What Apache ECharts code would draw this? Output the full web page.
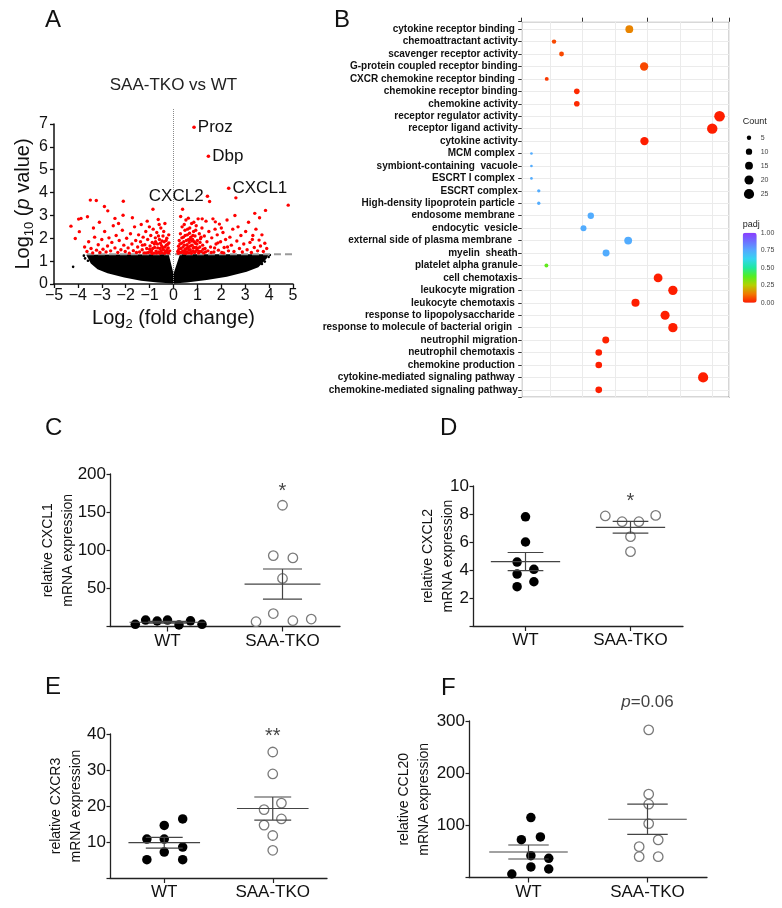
<!DOCTYPE html>
<html>
<head>
<meta charset="utf-8">
<script src="https://cdn.jsdelivr.net/npm/echarts@6/dist/echarts.min.js"></script>
<style>html,body{margin:0;padding:0;background:#fff}#main{width:782px;height:908px}</style>
</head>
<body>
<div id="main"></div>
<script>
// ---- A: volcano plot (log2 fold change, -log10 p) ----
var volcanoRed = [
  [-4.29,2.53],[-4.11,1.99],[-3.97,2.84],[-3.94,2.29],[-3.87,2.87],[-3.6,2.94],[-3.48,3.67],[-3.23,3.65],[-2.89,3.39],[-2.75,3.2],
  [-3.72,1.62],[-3.62,1.42],[-3.55,1.85],[-3.45,1.55],[-3.38,1.36],[-3.3,2.05],[-3.22,1.48],[-3.15,1.72],[-3.08,1.38],[-3.0,1.95],
  [-2.95,1.52],[-2.88,2.3],[-2.82,1.4],[-2.76,1.66],[-2.7,2.02],[-2.63,1.45],[-2.58,1.82],[-2.52,2.55],[-3.35,2.45],[-3.1,2.7],
  [-2.45,2.87],[-2.11,3.01],[-2.1,3.62],[-2.45,1.58],[-2.4,2.12],[-2.33,1.38],[-2.27,1.9],[-2.2,1.5],[-2.14,2.35],[-2.08,1.7],
  [-2.02,1.42],[-1.96,2.0],[-1.9,1.58],[-1.85,1.35],[-1.8,2.2],[-1.74,1.75],[-1.68,1.46],[-1.63,2.5],[-1.58,1.9],[-1.55,1.38],
  [-2.3,2.65],[-1.72,2.9],
  [-1.5,1.62],[-1.46,2.15],[-1.42,1.4],[-1.38,1.85],[-1.35,2.6],[-1.31,1.5],[-1.27,2.05],[-1.23,1.36],[-1.2,1.72],[-1.16,2.3],
  [-1.12,1.55],[-1.08,1.95],[-1.05,1.38],[-1.01,2.5],[-0.98,1.66],[-0.95,2.12],[-0.92,1.45],[-0.89,1.82],[-0.86,3.27],[-0.85,2.4],
  [-0.82,1.35],[-0.79,1.6],[-0.76,2.02],[-0.73,1.44],[-0.7,2.25],[-0.67,1.75],[-0.64,2.82],[-0.62,1.4],[-0.59,1.95],[-0.56,1.55],
  [-0.53,2.45],[-0.5,1.68],[-0.47,1.36],[-0.44,2.1],[-0.42,1.5],[-0.39,1.85],[-0.36,2.65],[-0.33,1.42],[-0.3,1.7],[-0.28,2.0],
  [-0.25,1.38],[-0.22,1.58],[-0.19,1.8],[-0.16,1.45],[-0.6,2.6],[-1.1,2.75],[-0.95,1.4],[-0.45,1.6],[-0.75,1.85],[-1.3,1.7],
  [-0.9,1.33],[-0.87,1.55],[-0.8,1.75],[-0.71,1.35],[-0.66,1.58],[-0.57,1.34],[-0.52,1.46],[-0.48,1.88],[-0.37,1.34],[-0.35,1.62],
  [-0.31,1.9],[-0.27,1.5],[-0.24,1.74],[-0.21,1.36],[-0.2,2.15],[-1.0,1.52],[-1.14,1.36],[-0.63,2.1],[-0.41,2.3],[-0.55,1.78],
  [0.18,1.42],[0.21,1.65],[0.24,1.9],[0.26,1.38],[0.29,2.2],[0.31,1.55],[0.34,1.78],[0.36,2.5],[0.38,3.27],[0.39,1.45],
  [0.41,2.05],[0.44,1.35],[0.46,1.7],[0.48,2.35],[0.5,1.52],[0.52,2.8],[0.54,1.9],[0.56,1.4],[0.58,2.15],[0.6,1.62],
  [0.62,2.88],[0.64,1.36],[0.66,1.82],[0.68,2.45],[0.7,1.5],[0.72,2.05],[0.74,1.4],[0.76,2.65],[0.78,1.7],[0.8,1.95],
  [0.82,1.45],[0.84,2.3],[0.86,1.6],[0.88,1.38],[0.9,2.1],[0.92,1.78],[0.95,2.55],[0.97,1.48],[1.0,1.9],[1.03,2.85],
  [1.05,1.36],[1.08,2.2],[1.1,1.62],[1.13,1.98],[1.16,1.42],[1.19,2.45],[1.22,1.7],[1.26,1.36],[1.29,2.1],[1.32,1.55],
  [1.36,2.75],[1.4,1.85],[1.44,1.45],[1.48,2.3],[0.45,2.6],[0.3,2.95],[0.7,1.95],[0.55,1.55],[0.85,2.7],[1.2,2.85],
  [0.62,1.6],[0.95,1.6],
  [0.2,1.34],[0.23,1.52],[0.27,1.75],[0.33,1.38],[0.35,2.02],[0.4,1.62],[0.43,1.85],[0.47,1.45],[0.49,2.12],[0.53,1.34],
  [0.57,1.72],[0.59,2.4],[0.63,1.95],[0.65,1.48],[0.67,2.22],[0.71,1.66],[0.75,1.34],[0.77,1.88],[0.81,2.12],[0.83,1.58],
  [0.87,1.85],[0.91,1.4],[0.93,2.35],[0.98,1.75],[1.02,1.56],[1.07,1.42],[1.11,1.82],[1.15,2.05],[1.24,1.52],[1.34,1.4],
  [1.51,3.61],[1.55,1.62],[1.6,2.02],[1.65,2.85],[1.69,1.4],[1.74,2.4],[1.78,1.75],[1.83,2.15],[1.88,1.48],[1.92,2.62],
  [1.97,1.85],[2.02,1.38],[2.07,2.25],[2.12,1.6],[2.18,1.95],[2.24,2.8],[2.3,1.45],[2.36,2.05],[2.42,1.7],[2.48,2.4],
  [2.53,1.42],[2.57,3.0],[2.61,3.77],[2.65,1.88],[2.7,2.5],[2.76,1.55],[2.82,2.12],[2.88,1.4],[2.94,1.75],[1.75,2.72],
  [2.0,2.45],[1.58,1.38],[1.72,1.58],[1.86,1.8],[2.1,1.36],[2.26,1.62],
  [3.02,2.3],[3.08,1.5],[3.14,2.7],[3.2,1.82],[3.26,1.38],[3.32,2.12],[3.38,1.6],[3.4,3.09],[3.45,2.4],[3.52,1.45],
  [3.58,1.92],[3.64,1.66],[3.7,2.15],[3.76,1.42],[3.82,1.78],[3.85,3.22],[3.9,1.55],[4.8,3.45],[3.3,1.95],[3.6,2.9]
];
// outline of the dense black cloud of non-significant genes
var cloudEdge = [
  [-3.65,1.28],[-0.2,1.3],[0,0.45],[0.27,1.3],[3.97,1.3],[3.9,1.12],[3.55,0.73],[3.06,0.54],[2.23,0.32],
  [1.39,0.17],[0.55,0.07],[0,0.02],[-0.66,0.07],[-1.36,0.14],[-2.06,0.28],[-2.76,0.47],[-3.18,0.65],[-3.46,0.9]
];
var cloudStray = [[-4.2,0.75],[-3.75,1.24],[-3.7,1.12],[-3.58,1.02],[4.03,1.27],[3.98,1.18],[3.82,0.98],[3.7,0.88]];
var geneNames = ['Proz', 'Dbp', 'CXCL1', 'CXCL2'];
var geneFC = [0.86, 1.46, 2.31, 1.42];
var geneLogP = [6.86, 5.59, 4.19, 3.84];
var pCutoff = 1.3;

// ---- B: GO enrichment dot plot ----
var goTerms = [
  'cytokine receptor binding ', 'chemoattractant activity', 'scavenger receptor activity',
  'G-protein coupled receptor binding', 'CXCR chemokine receptor binding ', 'chemokine receptor binding',
  'chemokine activity', 'receptor regulator activity', 'receptor ligand activity', 'cytokine activity',
  'MCM complex ', 'symbiont-containing  vacuole', 'ESCRT I complex ', 'ESCRT complex',
  'High-density lipoprotein particle ', 'endosome membrane ', 'endocytic  vesicle',
  'external side of plasma membrane  ', 'myelin  sheath', 'platelet alpha granule', 'cell chemotaxis',
  'leukocyte migration ', 'leukocyte chemotaxis ', 'response to lipopolysaccharide ',
  'response to molecule of bacterial origin  ', 'neutrophil migration', 'neutrophil chemotaxis ',
  'chemokine production ', 'cytokine-mediated signaling pathway ', 'chemokine-mediated signaling pathway'
];
var goRatio = [0.0688, 0.0225, 0.0271, 0.0779, 0.0180, 0.0365, 0.0365, 0.1243, 0.1198, 0.0781,
  0.0086, 0.0086, 0.0086, 0.0131, 0.0131, 0.0451, 0.0406, 0.0681, 0.0545, 0.0178,
  0.0865, 0.0956, 0.0726, 0.0908, 0.0956, 0.0543, 0.0500, 0.0500, 0.1142, 0.0500];
var goCount = [15, 5, 6, 17, 4, 8, 8, 27, 26, 17, 2, 2, 2, 3, 3, 10, 9, 15, 12, 4,
  19, 21, 16, 20, 21, 12, 11, 11, 25, 11];
var goPadj = [0.14, 0.06, 0.06, 0.06, 0.04, 0.02, 0.02, 0.005, 0.005, 0.005,
  0.74, 0.74, 0.74, 0.74, 0.74, 0.74, 0.74, 0.74, 0.74, 0.36,
  0.005, 0.005, 0.005, 0.005, 0.005, 0.01, 0.005, 0.005, 0.005, 0.005];
var countKeys = [5, 10, 15, 20, 25];
var padjKeys = ['1.00', '0.75', '0.50', '0.25', '0.00'];
var padjColors = ['#ff1a00', '#f07a00', '#b5d000', '#55ee20', '#20e8a0', '#35d5f0', '#55a8ff', '#6e70ff', '#8a3cff'];

// ---- C-F: qPCR dot plots, [x position with jitter, value] ----
var groups = ['WT', 'SAA-TKO'];
var cxcl1Wt = [[0.72,2.9],[0.81,8.5],[0.91,7.2],[1.0,8.5],[1.1,2.0],[1.2,7.5],[1.3,2.9]];
var cxcl1Ko = [[2.0,159],[1.92,93],[2.09,90],[2.0,63],[1.92,17],[1.77,6.3],[2.09,7.6],[2.25,9.8]];
var cxcl1Mean = [5.6, 55.7], cxcl1Sem = [1.1, 19.7];
var cxcl2Wt = [[1.0,7.8],[1.0,6.0],[0.92,4.57],[0.92,3.71],[1.08,4.05],[1.08,3.16],[0.92,2.81]];
var cxcl2Ko = [[1.76,7.86],[1.92,7.45],[2.08,7.45],[2.24,7.9],[2.0,6.38],[2.0,5.31]];
var cxcl2Mean = [4.6, 7.05], cxcl2Sem = [0.65, 0.42];
var cxcr3Wt = [[0.84,10.8],[1.0,10.8],[1.17,8.6],[1.0,7.2],[0.84,5.1],[1.17,5.1],[1.0,14.6],[1.17,16.4]];
var cxcr3Ko = [[2.0,35],[2.0,28.9],[2.08,20.8],[1.92,19.0],[2.08,16.4],[1.92,14.7],[2.0,11.8],[2.0,7.7]];
var cxcr3Mean = [9.8, 19.3], cxcr3Sem = [1.5, 3.2];
var ccl20Wt = [[1.02,114.8],[0.94,72.6],[1.1,77.7],[1.02,41.8],[1.17,36.8],[1.02,20.2],[1.17,16.3],[0.86,6.7]];
var ccl20Ko = [[2.01,283],[2.01,159.7],[2.01,140.5],[2.01,103.3],[2.09,72],[1.93,59.1],[1.93,40],[2.09,40]];
var ccl20Mean = [48.9, 111.7], ccl20Sem = [13.4, 29.1];
var sigText = ['*', '*', '**', '{i|p}=0.06'];
var sigY = [177.7, 8.88, 39.3, 335];

var FONT = 'Liberation Sans, Arial, Helvetica, sans-serif';
var INK = '#111';

var chart = echarts.init(document.getElementById('main'), null, {renderer: 'canvas', width: 782, height: 908});

function minusFmt(v) { return v < 0 ? '\u2212' + (-v) : String(v); }

var grids = [
  {left: 54, top: 124, width: 239, height: 160},
  {left: 54, top: 105.7, width: 239, height: 178.3},
  {left: 521.7, top: 21.7, width: 207.6, height: 375.6, show: true, borderColor: '#333', borderWidth: 1, backgroundColor: '#fff'},
  {left: 110, top: 474, width: 230, height: 152.5},
  {left: 473, top: 486, width: 210, height: 140},
  {left: 110, top: 734, width: 217, height: 144},
  {left: 469, top: 721, width: 238, height: 156.5}
];
grids.forEach(function (g) { g.containLabel = false; g.outerBoundsMode = 'none'; });

var xAxes = [], yAxes = [], series = [];

// A axes
xAxes.push({
  gridIndex: 0, type: 'value', min: -5, max: 5, interval: 1,
  axisLine: {show: true, onZero: false, lineStyle: {color: INK, width: 1.5}},
  axisTick: {show: true, length: 4, lineStyle: {color: INK, width: 1.3}},
  axisLabel: {fontSize: 16, color: INK, margin: 4, formatter: minusFmt},
  splitLine: {show: false},
  name: 'Log{s|2} (fold change)', nameLocation: 'middle', nameGap: 24, nameMoveOverlap: false,
  nameTextStyle: {fontSize: 20, color: INK, rich: {s: {fontSize: 13, verticalAlign: 'bottom', padding: [0, 0, -3, 0]}}}
});
yAxes.push({
  gridIndex: 0, type: 'value', min: 0, max: 7, interval: 1,
  axisLine: {show: true, onZero: false, lineStyle: {color: INK, width: 1.5}},
  axisTick: {show: true, length: 4, lineStyle: {color: INK, width: 1.3}},
  axisLabel: {fontSize: 16, color: INK, margin: 6},
  splitLine: {show: false},
  name: 'Log{s|10} ({i|p} value)', nameLocation: 'middle', nameGap: 21, nameRotate: 90, nameMoveOverlap: false,
  nameTextStyle: {fontSize: 20, color: INK, rich: {
    s: {fontSize: 13, verticalAlign: 'bottom', padding: [0, 0, -3, 0]},
    i: {fontSize: 20, fontStyle: 'italic'}
  }}
});
xAxes.push({gridIndex: 1, type: 'value', min: -5, max: 5, show: false});
yAxes.push({gridIndex: 1, type: 'value', min: 0, max: 7.8, show: false});

// B axes
xAxes.push({
  gridIndex: 2, type: 'value', min: 0.0026, max: 0.1303, minInterval: 0.02, maxInterval: 0.02, splitNumber: 6,
  axisLine: {show: false}, axisTick: {show: false}, axisLabel: {show: false},
  splitLine: {show: true, lineStyle: {color: '#ebebeb', width: 1}}
});
xAxes.push({
  gridIndex: 2, type: 'value', min: 0.0026, max: 0.1303, minInterval: 0.04, maxInterval: 0.04, splitNumber: 3,
  axisLine: {show: false}, axisLabel: {show: false}, splitLine: {show: false},
  axisTick: {show: true, length: 4, lineStyle: {color: '#333', width: 1}}
});
yAxes.push({
  gridIndex: 2, type: 'value', inverse: true, min: 0.4, max: 30.6, minInterval: 1, maxInterval: 1, splitNumber: 30,
  axisLine: {show: false, onZero: false},
  axisTick: {show: true, length: 3.5, lineStyle: {color: '#333', width: 1}},
  axisLabel: {
    fontSize: 10, fontWeight: 'bold', color: '#111', margin: 4,
    formatter: function (v) { return Number.isInteger(v) && goTerms[v - 1] ? goTerms[v - 1] : ''; }
  },
  splitLine: {show: true, lineStyle: {color: '#ebebeb', width: 1}}
});

// A series
series.push({
  type: 'custom', xAxisIndex: 0, yAxisIndex: 0, data: [[0, 0]], z: 1, silent: true,
  renderItem: function (params, api) {
    var pts = cloudEdge.map(function (p) { return api.coord(p); });
    return {type: 'polygon', shape: {points: pts}, style: {fill: '#000'}};
  }
});
series.push({
  type: 'scatter', xAxisIndex: 0, yAxisIndex: 0, data: cloudStray, symbolSize: 2.6,
  itemStyle: {color: '#000', opacity: 1}, z: 2, silent: true
});
series.push({
  type: 'line', xAxisIndex: 1, yAxisIndex: 1, data: [[0, 0], [0, 7.7]], symbol: 'none', z: 3, silent: true,
  lineStyle: {color: '#8a8a8a', width: 1, type: 'dotted'}
});
series.push({
  type: 'line', xAxisIndex: 0, yAxisIndex: 0, data: [[-3.62, pCutoff], [5, pCutoff]], symbol: 'none', z: 3, silent: true,
  lineStyle: {color: '#9a9a9a', width: 2, type: [7, 4]}
});
series.push({
  type: 'scatter', xAxisIndex: 0, yAxisIndex: 0, data: volcanoRed, symbolSize: 3.4,
  itemStyle: {color: '#ff0000', opacity: 1}, z: 4, silent: true
});
series.push({
  type: 'scatter', xAxisIndex: 0, yAxisIndex: 0, symbolSize: 3.6, z: 5, silent: true,
  itemStyle: {color: '#ff0000', opacity: 1},
  data: geneNames.map(function (n, i) {
    return {name: n, value: [geneFC[i], geneLogP[i]], label: {position: n === 'CXCL2' ? 'left' : 'right'}};
  }),
  label: {show: true, formatter: '{b}', fontSize: 17, color: INK, distance: 2}
});

// B series
var goSeriesIndex = series.length;
series.push({
  type: 'scatter', xAxisIndex: 2, yAxisIndex: 2, z: 5, silent: true,
  data: goTerms.map(function (t, i) { return [goRatio[i], i + 1, goCount[i], goPadj[i]]; }),
  symbolSize: function (d) { return 2.1 * Math.sqrt(d[2]) - 0.3; },
  itemStyle: {opacity: 1}
});

// C-F panels
var panels = [
  {grid: 3, yMax: 200, yStep: 50, title: 'relative CXCL1\nmRNA expression', gap: 32, wt: cxcl1Wt, ko: cxcl1Ko, mean: cxcl1Mean, sem: cxcl1Sem},
  {grid: 4, yMax: 10, yStep: 2, title: 'relative CXCL2\nmRNA expression', gap: 15, wt: cxcl2Wt, ko: cxcl2Ko, mean: cxcl2Mean, sem: cxcl2Sem},
  {grid: 5, yMax: 40, yStep: 10, title: 'relative CXCR3\nmRNA expression', gap: 24, wt: cxcr3Wt, ko: cxcr3Ko, mean: cxcr3Mean, sem: cxcr3Sem},
  {grid: 6, yMax: 300, yStep: 100, title: 'relative CCL20\nmRNA expression', gap: 35, wt: ccl20Wt, ko: ccl20Ko, mean: ccl20Mean, sem: ccl20Sem}
];

function meanSemItem(params, api) {
  var x = api.value(0), m = api.value(1), s = api.value(2);
  var st = {stroke: '#444', lineWidth: 1.2, fill: null};
  function seg(x1, y1, x2, y2) {
    var a = api.coord([x1, y1]), b = api.coord([x2, y2]);
    return {type: 'line', shape: {x1: a[0], y1: a[1], x2: b[0], y2: b[1]}, style: st};
  }
  return {type: 'group', children: [
    seg(x - 0.33, m, x + 0.33, m),
    seg(x, m - s, x, m + s),
    seg(x - 0.17, m + s, x + 0.17, m + s),
    seg(x - 0.17, m - s, x + 0.17, m - s)
  ]};
}

panels.forEach(function (p, k) {
  var xi = xAxes.length;
  xAxes.push({
    gridIndex: p.grid, type: 'category', data: groups, boundaryGap: true,
    axisLine: {show: true, onZero: false, lineStyle: {color: '#222', width: 1.3}},
    axisTick: {show: true, alignWithLabel: true, length: 5, lineStyle: {color: '#222', width: 1.2}},
    axisLabel: {fontSize: 17, color: INK, margin: 6},
    splitLine: {show: false}
  });
  xAxes.push({gridIndex: p.grid, type: 'value', min: 0.5, max: 2.5, show: false});
  var yi = yAxes.length;
  yAxes.push({
    gridIndex: p.grid, type: 'value', min: 0, max: p.yMax, interval: p.yStep,
    axisLine: {show: true, onZero: false, lineStyle: {color: '#222', width: 1.3}},
    axisTick: {show: true, length: 3.5, lineStyle: {color: '#222', width: 1.2}},
    axisLabel: {fontSize: 17, color: INK, margin: 4, formatter: function (v) { return v === 0 ? '' : String(v); }},
    splitLine: {show: false},
    name: p.title, nameLocation: 'middle', nameRotate: 90, nameGap: p.gap, nameMoveOverlap: false,
    nameTextStyle: {fontSize: 14, lineHeight: 20, color: INK, align: 'center'}
  });
  series.push({
    type: 'scatter', xAxisIndex: xi + 1, yAxisIndex: yi, data: p.wt, symbolSize: 9.5, z: 3, silent: true,
    itemStyle: {color: '#000', opacity: 1}
  });
  series.push({
    type: 'scatter', xAxisIndex: xi + 1, yAxisIndex: yi, data: p.ko, symbolSize: 9.5, z: 3, silent: true,
    itemStyle: {color: '#fff', borderColor: '#7a7a7a', borderWidth: 1.3, opacity: 1}
  });
  series.push({
    type: 'custom', xAxisIndex: xi + 1, yAxisIndex: yi, z: 4, silent: true,
    data: [[1, p.mean[0], p.sem[0]], [2, p.mean[1], p.sem[1]]],
    renderItem: meanSemItem
  });
  series.push({
    type: 'scatter', xAxisIndex: xi + 1, yAxisIndex: yi, data: [[2, sigY[k]]], symbolSize: 0.1, clip: false, z: 5, silent: true,
    itemStyle: {color: 'rgba(0,0,0,0)'},
    label: {
      show: true, position: 'inside', formatter: sigText[k], color: INK,
      fontSize: k === 3 ? 17 : 20,
      rich: {i: {fontSize: 17, fontStyle: 'italic', color: INK}}
    }
  });
});

// legends for B (Count sizes and padj colour bar labels)
var graphics = [];
graphics.push({type: 'text', x: 742.7, y: 122, style: {text: 'Count', fontSize: 9, fontFamily: FONT, fill: '#222', align: 'left', verticalAlign: 'middle'}});
var countY = [137.7, 151.7, 165.7, 180, 194];
countKeys.forEach(function (c, i) {
  var r = (2.1 * Math.sqrt(c) - 0.3) / 2;
  graphics.push({type: 'circle', shape: {cx: 749, cy: countY[i], r: r}, style: {fill: '#000'}});
  graphics.push({type: 'text', x: 760.7, y: countY[i], style: {text: String(c), fontSize: 7, fontFamily: FONT, fill: '#444', align: 'left', verticalAlign: 'middle'}});
});
graphics.push({type: 'text', x: 742.7, y: 225, style: {text: 'padj', fontSize: 9, fontFamily: FONT, fill: '#222', align: 'left', verticalAlign: 'middle'}});
padjKeys.forEach(function (t, i) {
  graphics.push({type: 'text', x: 760.7, y: 232.7 + i * 17.5, style: {text: t, fontSize: 7, fontFamily: FONT, fill: '#444', align: 'left', verticalAlign: 'middle'}});
});

var titles = [
  {text: 'A', left: 45, top: 8},
  {text: 'B', left: 334, top: 8},
  {text: 'C', left: 45, top: 416},
  {text: 'D', left: 440, top: 416},
  {text: 'E', left: 45, top: 675},
  {text: 'F', left: 441, top: 676}
].map(function (t) {
  t.padding = 0;
  t.textStyle = {fontSize: 24, fontWeight: 'normal', color: INK, fontFamily: FONT};
  return t;
});
titles.push({text: 'SAA-TKO vs WT', left: 173.5, top: 77, textAlign: 'center', padding: 0,
  textStyle: {fontSize: 17, fontWeight: 'normal', color: '#222', fontFamily: FONT}});

chart.setOption({
  backgroundColor: '#fff',
  animation: false,
  textStyle: {fontFamily: FONT},
  title: titles,
  grid: grids,
  xAxis: xAxes,
  yAxis: yAxes,
  visualMap: {
    type: 'continuous', seriesIndex: goSeriesIndex, dimension: 3, min: 0, max: 1,
    inRange: {color: padjColors}, calculable: false, hoverLink: false,
    left: 742.7, top: 232.7, itemWidth: 14, itemHeight: 70, padding: 0, text: null
  },
  graphic: graphics,
  series: series
});
</script>
</body>
</html>
